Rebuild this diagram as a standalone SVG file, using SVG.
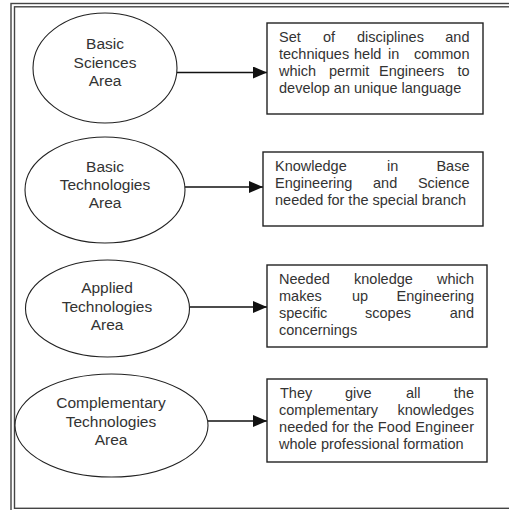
<svg xmlns="http://www.w3.org/2000/svg" width="509" height="510" viewBox="0 0 509 510">
<style>
.frame{fill:none;stroke:#444;stroke-width:1.4}
.ell{fill:#fff;stroke:#222;stroke-width:1.1}
.box{fill:#fff;stroke:#222;stroke-width:1.4}
.et{font-family:"Liberation Sans",Arial,sans-serif;font-size:15.5px;fill:#333;text-anchor:middle}
.bt{font-family:"Liberation Sans",Arial,sans-serif;font-size:14.5px;fill:#333}
.e{text-anchor:end}
.conn{stroke:#111;stroke-width:1.3;fill:none;marker-end:url(#ah)}
</style>
<defs>
<marker id="ah" viewBox="0 0 14 12" refX="14" refY="6" markerWidth="14" markerHeight="12" markerUnits="userSpaceOnUse" orient="auto">
<path d="M0,0 L14,6 L0,12 Z" fill="#111"/>
</marker>
</defs>
<rect width="509" height="510" fill="#fff"/>
<rect class="frame" x="11" y="3.5" width="510" height="520"/>
<rect class="frame" x="14.5" y="6.8" width="510" height="501.5"/>
<g id="connectors">
<line class="conn" x1="177" y1="72.5" x2="267" y2="72.5"/>
<line class="conn" x1="185" y1="187" x2="263" y2="187"/>
<line class="conn" x1="190" y1="307" x2="267" y2="307"/>
<line class="conn" x1="208" y1="421" x2="267" y2="421"/>
</g>
<g id="n1">
<ellipse class="ell" cx="105" cy="68" rx="72" ry="55"/>
<text class="et" x="105" y="49">Basic</text>
<text class="et" x="105" y="68">Sciences</text>
<text class="et" x="105" y="86">Area</text>
</g>
<g id="n2">
<ellipse class="ell" cx="105" cy="190" rx="80" ry="53"/>
<text class="et" x="105" y="172">Basic</text>
<text class="et" x="105" y="190">Technologies</text>
<text class="et" x="105" y="208">Area</text>
</g>
<g id="n3">
<ellipse class="ell" cx="107.5" cy="308.5" rx="82" ry="48.5"/>
<text class="et" x="107" y="293">Applied</text>
<text class="et" x="107" y="312">Technologies</text>
<text class="et" x="107" y="330">Area</text>
</g>
<g id="n4">
<ellipse class="ell" cx="111.5" cy="425.5" rx="96.5" ry="51.5"/>
<text class="et" x="111" y="408">Complementary</text>
<text class="et" x="111" y="427">Technologies</text>
<text class="et" x="111" y="445">Area</text>
</g>
<g id="b1">
<rect class="box" x="267" y="23" width="216" height="91"/>
<text class="bt" y="42"><tspan x="279">Set</tspan><tspan x="323">of</tspan><tspan x="357">disciplines</tspan></text>
<text class="bt e" x="469.5" y="42">and</text>
<text class="bt" y="59"><tspan x="279">techniques</tspan><tspan x="354">held</tspan><tspan x="388">in</tspan></text>
<text class="bt e" x="469.5" y="59">common</text>
<text class="bt" y="76"><tspan x="279">which</tspan><tspan x="329">permit</tspan><tspan x="379">Engineers</tspan></text>
<text class="bt e" x="469.5" y="76">to</text>
<text class="bt" x="279" y="93">develop an unique language</text>
</g>
<g id="b2">
<rect class="box" x="263" y="152" width="220" height="74"/>
<text class="bt" y="171"><tspan x="275">Knowledge</tspan><tspan x="387">in</tspan></text>
<text class="bt e" x="469.5" y="171">Base</text>
<text class="bt" y="188"><tspan x="275">Engineering</tspan><tspan x="373">and</tspan></text>
<text class="bt e" x="469.5" y="188">Science</text>
<text class="bt" x="275" y="205">needed for the special branch</text>
</g>
<g id="b3">
<rect class="box" x="267" y="265" width="220" height="82"/>
<text class="bt" y="284"><tspan x="279">Needed</tspan><tspan x="354">knoledge</tspan></text>
<text class="bt e" x="474" y="284">which</text>
<text class="bt" y="301"><tspan x="279">makes</tspan><tspan x="352">up</tspan></text>
<text class="bt e" x="474" y="301">Engineering</text>
<text class="bt" y="318"><tspan x="279">specific</tspan><tspan x="365">scopes</tspan></text>
<text class="bt e" x="474" y="318">and</text>
<text class="bt" x="279" y="335">concernings</text>
</g>
<g id="b4">
<rect class="box" x="267" y="379" width="220" height="83"/>
<text class="bt" y="398"><tspan x="280">They</tspan><tspan x="345">give</tspan><tspan x="406">all</tspan></text>
<text class="bt e" x="474" y="398">the</text>
<text class="bt" x="279" y="415">complementary</text>
<text class="bt e" x="474" y="415">knowledges</text>
<text class="bt" x="279" y="432" textLength="195" lengthAdjust="spacing">needed for the Food Engineer</text>
<text class="bt" x="279" y="449">whole professional formation</text>
</g>
</svg>
